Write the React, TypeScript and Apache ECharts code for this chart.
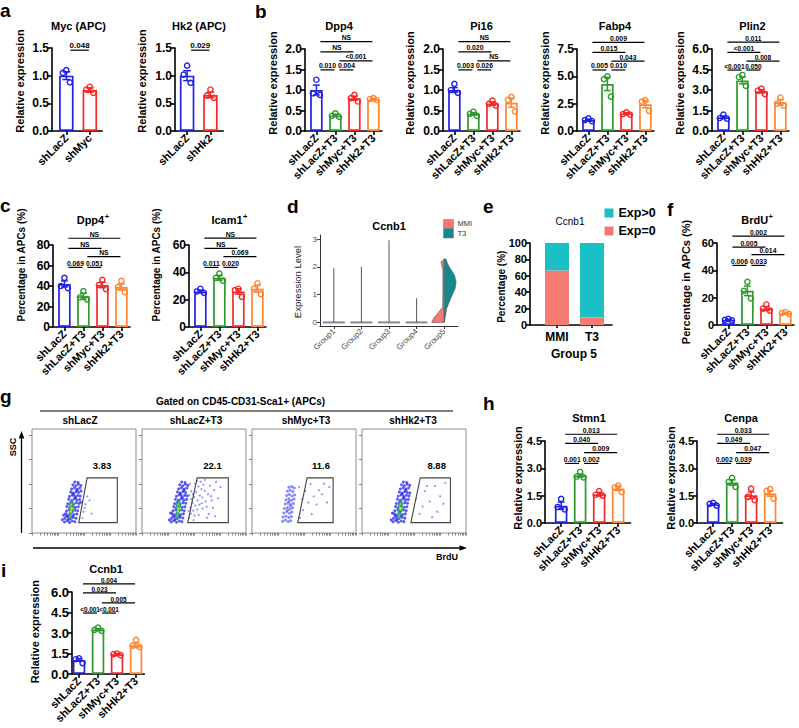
import React, { useEffect, useRef } from "react";
import * as echarts from "echarts";

const FONT = "Arial, 'Liberation Sans', Helvetica, sans-serif";
const BLUE = "#2121E3";
const GREEN = "#2E9A2E";
const RED = "#F42828";
const ORANGE = "#FF8533";
const C4 = [BLUE, GREEN, RED, ORANGE];
const C2 = [BLUE, RED];
const SALMON = "#F8766D";
const TEAL_D = "#12898C";
const TEAL_E = "#1BC0C4";
const SALMON_E = "#F57A70";

// ---------------- data ----------------
const groups4 = ["shLacZ", "shLacZ+T3", "shMyc+T3", "shHk2+T3"];
const groupsF = ["shLacZ", "shLacZ+T3", "shMyc+T3", "shHK2+T3"];

// a
const mycCats = ["shLacZ", "shMyc"];
const mycMean = [1.0, 0.74];
const mycSem = [0.07, 0.04];
const mycDots = [[1.1, 1.05, 0.88], [0.8, 0.75, 0.69]];
const mycSig = [[0, 1, 1.46]];
const mycSigText = ["0.048"];

const hk2Cats = ["shLacZ", "shHk2"];
const hk2Mean = [1.0, 0.65];
const hk2Sem = [0.09, 0.05];
const hk2Dots = [[1.18, 1.02, 0.87], [0.75, 0.64, 0.6]];
const hk2Sig = [[0, 1, 1.46]];
const hk2SigText = ["0.029"];

// b
const dpp4Mean = [1.0, 0.38, 0.8, 0.77];
const dpp4Sem = [0.12, 0.03, 0.05, 0.02];
const dpp4Dots = [[1.25, 0.92, 0.88], [0.43, 0.37, 0.35], [0.88, 0.8, 0.72], [0.8, 0.78, 0.75]];
const dpp4Sig = [[0, 3, 2.18], [0, 2, 1.93], [1, 3, 1.71], [0, 1, 1.49], [1, 2, 1.49]];
const dpp4SigText = ["NS", "NS", "<0.001", "0.010", "0.004"];

const pi16Mean = [1.0, 0.42, 0.67, 0.69];
const pi16Sem = [0.06, 0.03, 0.04, 0.11];
const pi16Dots = [[1.15, 1.0, 0.93], [0.47, 0.42, 0.37], [0.74, 0.66, 0.62], [0.83, 0.76, 0.48]];
const pi16Sig = [[0, 3, 2.18], [0, 2, 1.93], [1, 3, 1.71], [0, 1, 1.49], [1, 2, 1.49]];
const pi16SigText = ["NS", "0.020", "NS", "0.003", "0.026"];

const fabp4Mean = [1.0, 4.3, 1.6, 2.45];
const fabp4Sem = [0.08, 0.6, 0.07, 0.32];
const fabp4Dots = [[1.15, 1.0, 0.9], [5.0, 4.75, 3.15], [1.7, 1.55, 1.5], [2.8, 2.7, 1.85]];
const fabp4Sig = [[0, 3, 8.1], [0, 2, 7.2], [1, 3, 6.4], [0, 1, 5.58], [1, 2, 5.58]];
const fabp4SigText = ["0.009", "0.015", "0.043", "0.005", "0.010"];

const plin2Mean = [1.0, 3.7, 2.9, 2.1];
const plin2Sem = [0.1, 0.25, 0.12, 0.2];
const plin2Dots = [[1.2, 0.95, 0.9], [4.1, 3.95, 3.3], [3.1, 2.95, 2.7], [2.45, 2.0, 1.85]];
const plin2Sig = [[0, 3, 6.5], [0, 2, 5.76], [1, 3, 5.12], [0, 1, 4.46], [1, 2, 4.46]];
const plin2SigText = ["0.011", "<0.001", "0.008", "<0.001", "0.050"];

// c
const dppPosMean = [42, 30, 41, 39];
const dppPosSem = [3, 3, 2.7, 3];
const dppPosDots = [[48, 40, 38], [35, 29, 27], [46, 41, 37], [45, 39, 34]];
const dppPosSig = [[0, 3, 86.6], [0, 2, 76.8], [1, 3, 68.6], [0, 1, 58.2], [1, 2, 58.2]];
const dppPosSigText = ["NS", "NS", "NS", "0.069", "0.051"];

const icamMean = [26, 36, 26, 28];
const icamSem = [1, 1.8, 2, 2.5];
const icamDots = [[28, 26, 25], [39, 36, 34], [28, 27, 22], [32, 28, 24]];
const icamSig = [[0, 3, 65], [0, 2, 57.6], [1, 3, 51.5], [0, 1, 43.6], [1, 2, 43.6]];
const icamSigText = ["NS", "NS", "0.069", "0.011", "0.020"];

// d
const violinGroups = ["Group1", "Group2", "Group3", "Group4", "Group5"];
const violinMax = [1.95, 2.0, 2.96, 0.87];
const mmiProfile = [[0, 1.0], [0.04, 1.0], [0.19, 0.78], [0.37, 0.45], [0.55, 0.13], [1.0, 0.11], [1.88, 0.11], [2.06, 0.2], [2.18, 0.27], [2.27, 0]];
const t3Profile = [[0, 0], [0.04, 0.03], [0.5, 0.2], [0.91, 0.57], [1.22, 0.89], [1.46, 0.97], [1.7, 0.84], [1.94, 0.49], [2.12, 0.27], [2.27, 0.16], [2.3, 0]];

// e
const eCats = ["MMI", "T3"];
const eExp0 = [66.5, 9];
const eExpPos = [33.5, 91];

// f
const brduMean = [3.8, 25, 12, 8.8];
const brduSem = [0.4, 3.5, 1.5, 0.4];
const brduDots = [[4.5, 3.8, 3.4], [31.5, 25, 19.5], [15, 12, 10.5], [9.5, 8.8, 8.2]];
const brduSig = [[0, 3, 65], [0, 2, 57], [1, 3, 51.5], [0, 1, 43.6], [1, 2, 43.6]];
const brduSigText = ["0.002", "0.005", "0.014", "0.006", "0.033"];

// g (events in % of each plot's width/height)
const flowTitles = ["shLacZ", "shLacZ+T3", "shMyc+T3", "shHk2+T3"];
const flowPct = ["3.83", "22.1", "11.6", "8.88"];
const flowGates = [
  [53, 53, 82, 53, 82, 10, 45, 10],
  [53, 53, 83, 53, 83, 10, 44, 10],
  [53, 53, 78, 53, 78, 10, 44, 10],
  [56, 53, 85, 53, 85, 10, 47, 10],
];
const flow1Blue = [31.2,10.6,33.8,11.9,36.1,10.2,38.7,11.5,41.3,10.8,34.9,12.7,31.5,14.1,34.6,15.3,36.9,13.8,39.8,14.9,42.4,14.2,33.1,16.4,32.4,18.6,35.1,17.4,37.6,18.9,40.3,17.7,43.1,18.3,38.9,16.1,33.2,21.1,35.9,22.4,38.8,20.8,41.4,21.9,43.9,21.3,36.8,19.9,33.6,25.4,36.4,24.3,39.3,25.8,41.8,24.6,44.6,25.2,37.9,23.2,34.5,28.1,37.2,29.3,40.1,27.9,42.7,29.1,45.3,28.4,38.6,30.4,35.3,32.4,38.1,31.3,40.6,32.9,43.2,31.6,45.8,32.2,41.9,33.8,36.1,35.2,38.9,36.4,41.5,35.0,44.1,36.1,46.4,35.6,40.2,37.3,37.2,39.3,39.6,38.4,42.3,39.7,44.8,38.9,43.4,41.1,38.1,42.2,40.8,43.4,43.4,42.1,45.9,43.2,39.3,46.3,42.1,45.4,44.6,46.8,47.1,45.7,41.2,49.1,44.3,48.6,29.2,12.8,30.4,17.2,47.2,40.3,46.8,29.6];
const flow1Green = [36.2,16.8,37.4,19.3,38.1,21.6,37.0,23.8,38.9,25.2,39.4,27.7,36.6,26.9,38.2,30.1,39.8,22.4,37.6,14.9];
const flow1Yellow = [38.0,23.3,37.3,20.6];
const flow1Gate = [48.4,14.3,49.5,20.4,51.4,27.6,53.1,35.2,55.2,31.4,50.6,24.1,57.2,18.6];
const flow2Blue = [28.1,10.7,30.6,11.8,33.2,10.3,35.9,11.6,38.4,10.9,31.8,12.9,28.5,14.3,31.3,15.4,33.9,13.9,36.6,15.1,39.2,14.4,30.1,16.6,29.1,18.5,31.8,17.6,34.4,19.1,37.1,17.8,39.8,18.4,35.7,16.2,29.9,21.3,32.6,22.5,35.3,20.9,38.1,22.1,40.6,21.4,33.7,20.1,30.6,25.3,33.3,24.4,36.1,25.9,38.7,24.7,41.3,25.3,34.8,23.3,31.4,28.2,34.1,29.4,36.9,28.1,39.6,29.2,42.1,28.6,35.5,30.5,32.2,32.5,35.0,31.4,37.6,32.8,40.2,31.7,42.8,32.3,38.9,33.9,33.1,35.3,35.8,36.5,38.4,35.1,41.1,36.2,43.5,35.7,37.2,37.4,34.1,39.4,36.6,38.5,39.3,39.8,41.9,39.0,40.4,41.2,35.2,42.3,37.8,43.5,40.5,42.2,43.1,43.3,36.3,46.4,39.1,45.5,41.7,46.9,44.2,45.8,38.2,49.0,41.4,48.5,26.3,12.6,27.4,19.2];
const flow2Green = [33.1,16.7,34.3,19.2,35.1,21.7,34.0,23.9,35.9,25.3,36.4,27.8,33.6,27.0,35.2,30.2,36.8,22.5,34.6,14.8];
const flow2Yellow = [35.0,23.4,34.4,20.7];
const flow2Gate = [45.3,14.2,47.1,18.6,46.4,24.3,49.2,21.5,48.6,29.1,51.3,26.4,50.2,34.6,53.4,31.2,52.1,39.3,55.6,36.1,54.3,44.7,57.2,42.1,56.4,49.3,59.1,46.5,58.3,23.6,61.2,30.4,63.5,37.2,60.4,51.1,65.3,45.6,67.2,31.4,62.1,25.3,47.4,40.2,49.6,12.4,64.2,18.3,69.5,41.2,71.2,49.1,54.6,17.4,57.3,28.6,66.4,35.3,73.1,33.4,45.6,36.2,51.2,47.4,60.3,40.5,62.4,14.6,68.2,24.3,75.4,44.2,53.2,22.5,58.1,34.3,47.2,32.6,70.3,16.1,46.1,47.3,50.5,16.8,55.1,27.2,52.9,50.2,44.8,21.3,48.8,37.4];
const flow3Blue = [29.4,11.2,32.1,12.4,34.8,10.9,37.3,11.8,29.9,15.3,32.7,16.1,35.4,14.8,37.9,15.9,30.6,19.2,33.4,20.4,36.1,19.0,38.4,20.1,31.2,23.6,34.0,24.5,36.6,23.1,39.1,24.2,31.9,27.9,34.6,28.7,37.3,27.4,39.8,28.3,32.6,31.8,35.3,32.9,38.0,31.5,40.4,32.6,33.3,36.1,36.0,36.9,38.6,35.6,41.0,36.5,34.1,40.2,36.7,41.1,39.3,39.8,35.4,43.9,38.2,44.6,40.6,43.2,36.8,26.0,34.2,21.9,35.7,30.3];
const flow3Green: number[] = [];
const flow3Yellow: number[] = [];
const flow3Gate = [46.2,14.4,49.3,22.1,54.1,29.3,59.4,35.2,51.2,40.4,64.3,41.1,69.2,47.3,57.4,18.2,62.1,27.4,74.3,44.2,48.2,32.3,67.4,37.2,72.1,29.4,56.3,47.1,45.4,44.2];
const flow4Blue = [29.8,10.8,32.4,11.9,35.0,10.4,37.7,11.6,40.3,10.9,33.7,13.1,30.3,14.2,33.1,15.4,35.8,13.9,38.5,15.1,41.1,14.3,31.9,16.7,30.9,18.6,33.6,17.5,36.3,19.1,39.0,17.8,41.7,18.4,37.5,16.3,31.6,21.3,34.4,22.6,37.1,21.0,39.8,22.2,42.4,21.5,35.6,20.1,32.3,25.4,35.1,24.5,37.8,25.9,40.5,24.7,43.1,25.3,36.7,23.3,33.1,28.3,35.9,29.4,38.6,28.1,41.2,29.2,43.8,28.6,37.4,30.5,33.9,32.5,36.7,31.4,39.3,32.9,41.9,31.7,44.5,32.3,40.6,33.9,34.8,35.3,37.5,36.5,40.1,35.1,42.7,36.2,45.2,35.7,38.9,37.4,35.8,39.4,38.3,38.5,41.0,39.8,43.6,39.0,42.2,41.2,36.9,42.3,39.6,43.5,42.2,42.2,44.8,43.3,38.0,46.4,40.8,45.5,43.4,46.9,45.9,45.8,39.9,49.0,43.1,48.5,28.1,12.6,29.2,19.3,46.1,38.4];
const flow4Green = [34.9,16.8,36.1,19.3,36.9,21.7,35.8,23.9,37.7,25.3,38.2,27.8,35.4,27.0,37.0,30.2,38.6,22.5,36.4,14.9];
const flow4Yellow = [36.8,23.4];
const flow4Gate = [58.2,25.4,60.3,40.2,65.1,30.3,67.4,15.2,70.2,45.1,72.3,20.4,75.1,35.3,78.2,28.1,80.1,48.2,62.4,45.3,52.2,33.1,55.3,18.4];

// h
const stmnMean = [0.95, 2.6, 1.58, 1.9];
const stmnSem = [0.2, 0.08, 0.1, 0.12];
const stmnDots = [[1.32, 0.88, 0.75], [2.8, 2.55, 2.5], [1.75, 1.55, 1.5], [2.05, 1.95, 1.7]];
const stmnSig = [[0, 3, 4.87], [0, 2, 4.37], [1, 3, 3.86], [0, 1, 3.27], [1, 2, 3.27]];
const stmnSigText = ["0.013", "0.040", "0.009", "0.001", "0.002"];

const cenpaMean = [1.02, 2.22, 1.52, 1.62];
const cenpaSem = [0.05, 0.15, 0.18, 0.15];
const cenpaDots = [[1.1, 1.05, 0.95], [2.48, 2.26, 1.98], [1.89, 1.43, 1.25], [1.86, 1.76, 1.34]];
const cenpaSig = [[0, 3, 4.87], [0, 2, 4.37], [1, 3, 3.86], [0, 1, 3.27], [1, 2, 3.27]];
const cenpaSigText = ["0.033", "0.049", "0.047", "0.002", "0.039"];

// i
const ccnbMean = [1.03, 3.25, 1.45, 2.1];
const ccnbSem = [0.1, 0.07, 0.04, 0.17];
const ccnbDots = [[1.15, 1.08, 0.8], [3.4, 3.23, 3.16], [1.5, 1.45, 1.38], [2.5, 2.08, 1.96]];
const ccnbSig = [[0, 3, 6.6], [0, 2, 5.93], [1, 3, 5.2], [0, 1, 4.46], [1, 2, 4.46]];
const ccnbSigText = ["0.004", "0.023", "0.005", "<0.001", "<0.001"];

// ---------------- builder ----------------
const JIT = [0, -3.5, 3.5];
const pairs = (a: number[]) => {
  const r: number[][] = [];
  for (let i = 0; i < a.length; i += 2) r.push([a[i], a[i + 1]]);
  return r;
};

function buildOption() {
  const grid: any[] = [];
  const xAxis: any[] = [];
  const yAxis: any[] = [];
  const series: any[] = [];
  const graphic: any[] = [];
  const AX = { color: "#000", width: 1.6 };

  const T = (x: number, y: number, text: string, size: number, weight: any = "bold", extra: any = {}, rot = 0) => {
    graphic.push({
      type: "text", x, y, rotation: rot, silent: true,
      style: { text, fontSize: size, fontWeight: weight, fontFamily: FONT, fill: "#000", align: "center", verticalAlign: "middle", ...extra },
    });
  };

  function barPanel(p: any, L: any) {
    const gi = grid.length;
    const idx = p.cats.map((_: any, i: number) => i);
    grid.push({ left: L.left, top: L.top, width: (L.xMax - L.xMin) * L.spacing, height: L.height });
    xAxis.push({
      gridIndex: gi, type: "value", min: L.xMin, max: L.xMax,
      axisLine: { show: true, onZero: false, lineStyle: AX },
      axisTick: { show: true, customValues: idx, length: 4, lineStyle: AX },
      axisLabel: {
        show: true, customValues: idx, formatter: (v: number) => p.cats[Math.round(v)] ?? "",
        rotate: 45, fontSize: 11, fontWeight: "bold", color: "#000", fontFamily: FONT, margin: 5,
      },
      splitLine: { show: false },
    });
    yAxis.push({
      gridIndex: gi, type: "value", min: 0, max: p.yMax, interval: p.yStep,
      axisLine: { show: true, onZero: false, lineStyle: AX },
      axisTick: { show: true, length: 4, lineStyle: AX },
      axisLabel: {
        formatter: (v: number) => v.toFixed(p.dec), fontSize: L.tickSize, fontWeight: "bold",
        color: "#000", fontFamily: FONT, margin: 3,
      },
      splitLine: { show: false },
    });
    series.push({
      type: "bar", xAxisIndex: gi, yAxisIndex: gi, barWidth: L.barW, silent: true,
      data: p.mean.map((m: number, i: number) => ({
        value: [i, m],
        itemStyle: { color: "rgba(255,255,255,0)", borderColor: p.colors[i], borderWidth: 1.7 },
      })),
    });
    series.push({
      type: "custom", xAxisIndex: gi, yAxisIndex: gi, silent: true, clip: false,
      data: p.mean.map((m: number, i: number) => [i, m, p.sem[i]]),
      renderItem: (params: any, api: any) => {
        const i = api.value(0), m = api.value(1), e = api.value(2);
        const c = p.colors[i];
        const [cx, yT] = api.coord([i, m + e]);
        const yB = api.coord([i, m - e])[1];
        const cap = L.barW * 0.27;
        const ch: any[] = [
          { type: "line", shape: { x1: cx, y1: yT, x2: cx, y2: yB }, style: { stroke: c, lineWidth: 1.5 } },
          { type: "line", shape: { x1: cx - cap, y1: yT, x2: cx + cap, y2: yT }, style: { stroke: c, lineWidth: 1.5 } },
          { type: "line", shape: { x1: cx - cap, y1: yB, x2: cx + cap, y2: yB }, style: { stroke: c, lineWidth: 1.5 } },
        ];
        p.dots[i].forEach((d: number, k: number) => {
          const yy = api.coord([i, d])[1];
          ch.push({ type: "circle", shape: { cx: cx + JIT[k], cy: yy, r: 2.6 }, style: { fill: "none", stroke: c, lineWidth: 1.4 } });
        });
        return { type: "group", children: ch };
      },
    });
    series.push({
      type: "custom", xAxisIndex: gi, yAxisIndex: gi, silent: true, clip: false,
      data: p.sig,
      renderItem: (params: any, api: any) => {
        const a = api.value(0), b = api.value(1), y = api.value(2);
        const [x1, yy] = api.coord([a, y]);
        const x2 = api.coord([b, y])[0];
        const xa = x1 + 4, xb = x2 - 1;
        return {
          type: "group",
          children: [
            { type: "line", shape: { x1: xa, y1: yy, x2: xb, y2: yy }, style: { stroke: "#000", lineWidth: 1.2 } },
            {
              type: "text", x: (xa + xb) / 2, y: yy - 0.5,
              style: { text: p.sigText[params.dataIndex], fontSize: L.sigSize, fontWeight: "bold", fontFamily: FONT, fill: "#000", align: "center", verticalAlign: "bottom" },
            },
          ],
        };
      },
    });
  }

  const L2 = (left: number, top: number) => ({ left, top, height: 83, xMin: -0.61, xMax: 1.53, spacing: 23.5, barW: 14.5, tickSize: 12, sigSize: 8 });
  const L4 = (left: number, top: number, tickSize = 12, xMin = -0.6, xMax = 3.45, sigSize = 6.8) =>
    ({ left, top, height: 82, xMin, xMax, spacing: 19, barW: 12.5, tickSize, sigSize });

  // a
  barPanel({ cats: mycCats, colors: C2, mean: mycMean, sem: mycSem, dots: mycDots, sig: mycSig, sigText: mycSigText, yMax: 1.5, yStep: 0.5, dec: 1 }, L2(52, 48));
  barPanel({ cats: hk2Cats, colors: C2, mean: hk2Mean, sem: hk2Sem, dots: hk2Dots, sig: hk2Sig, sigText: hk2SigText, yMax: 1.5, yStep: 0.5, dec: 1 }, { ...L2(175, 48), xMin: -0.52, xMax: 1.55, spacing: 23.3 });
  // b
  barPanel({ cats: groups4, colors: C4, mean: dpp4Mean, sem: dpp4Sem, dots: dpp4Dots, sig: dpp4Sig, sigText: dpp4SigText, yMax: 2, yStep: 0.5, dec: 1 }, L4(305, 49));
  barPanel({ cats: groups4, colors: C4, mean: pi16Mean, sem: pi16Sem, dots: pi16Dots, sig: pi16Sig, sigText: pi16SigText, yMax: 2, yStep: 0.5, dec: 1 }, L4(443, 49));
  barPanel({ cats: groups4, colors: C4, mean: fabp4Mean, sem: fabp4Sem, dots: fabp4Dots, sig: fabp4Sig, sigText: fabp4SigText, yMax: 7.5, yStep: 2.5, dec: 1 }, L4(577, 49));
  barPanel({ cats: groups4, colors: C4, mean: plin2Mean, sem: plin2Sem, dots: plin2Dots, sig: plin2Sig, sigText: plin2SigText, yMax: 6, yStep: 1.5, dec: 1 }, L4(712, 49, 12, -0.6, 3.45, 6.6));
  // c
  barPanel({ cats: groups4, colors: C4, mean: dppPosMean, sem: dppPosSem, dots: dppPosDots, sig: dppPosSig, sigText: dppPosSigText, yMax: 80, yStep: 20, dec: 0 }, L4(53, 245));
  barPanel({ cats: groups4, colors: C4, mean: icamMean, sem: icamSem, dots: icamDots, sig: icamSig, sigText: icamSigText, yMax: 60, yStep: 20, dec: 0 }, L4(189, 245));
  // f
  barPanel({ cats: groupsF, colors: C4, mean: brduMean, sem: brduSem, dots: brduDots, sig: brduSig, sigText: brduSigText, yMax: 60, yStep: 20, dec: 0 }, L4(717, 243, 11));
  // h
  barPanel({ cats: groups4, colors: C4, mean: stmnMean, sem: stmnSem, dots: stmnDots, sig: stmnSig, sigText: stmnSigText, yMax: 4.5, yStep: 1.5, dec: 1 }, L4(545, 441, 11, -0.85, 3.65));
  barPanel({ cats: groups4, colors: C4, mean: cenpaMean, sem: cenpaSem, dots: cenpaDots, sig: cenpaSig, sigText: cenpaSigText, yMax: 4.5, yStep: 1.5, dec: 1 }, L4(697, 441, 11, -0.85, 3.65));
  // i
  barPanel({ cats: groups4, colors: C4, mean: ccnbMean, sem: ccnbSem, dots: ccnbDots, sig: ccnbSig, sigText: ccnbSigText, yMax: 6, yStep: 1.5, dec: 1 }, L4(72, 592, 13, -0.37, 3.44, 6.4));

  // ---- d violin ----
  {
    const gi = grid.length;
    const GL = { color: "#333", width: 1 };
    grid.push({ left: 320, top: 235, width: 138, height: 91 });
    xAxis.push({
      gridIndex: gi, type: "category", data: violinGroups, boundaryGap: true,
      axisLine: { show: true, onZero: false, lineStyle: GL }, axisTick: { show: true, alignWithLabel: true, length: 3, lineStyle: GL },
      axisLabel: { rotate: 45, fontSize: 8, color: "#4d4d4d", fontFamily: FONT, margin: 4, interval: 0 },
      splitLine: { show: false },
    });
    yAxis.push({
      gridIndex: gi, type: "value", min: -0.13, max: 3.15,
      axisLine: { show: true, onZero: false, lineStyle: GL },
      axisTick: { show: true, customValues: [0, 1, 2, 3], length: 3, lineStyle: GL },
      axisLabel: { customValues: [0, 1, 2, 3], fontSize: 8, color: "#4d4d4d", fontFamily: FONT, margin: 3 },
      splitLine: { show: false },
    });
    series.push({
      type: "custom", xAxisIndex: gi, yAxisIndex: gi, silent: true, clip: false,
      data: violinGroups.map((_, i) => [i, 0]),
      renderItem: (params: any, api: any) => {
        const g = params.dataIndex;
        const [cx, y0] = api.coord([g, 0]);
        if (g < 4) {
          const yt = api.coord([g, violinMax[g]])[1];
          return {
            type: "group",
            children: [
              { type: "line", shape: { x1: cx - 11, y1: y0, x2: cx + 11, y2: y0 }, style: { stroke: "#8a8a8a", lineWidth: 2 } },
              { type: "line", shape: { x1: cx, y1: y0, x2: cx, y2: yt }, style: { stroke: "#555", lineWidth: 1 } },
            ],
          };
        }
        const HW = 12.3;
        const mmi: number[][] = [[cx, y0]];
        mmiProfile.forEach(([v, w]) => mmi.push([cx - w * HW, api.coord([g, v])[1]]));
        const t3: number[][] = [[cx, y0]];
        t3Profile.forEach(([v, w]) => t3.push([cx + w * HW, api.coord([g, v])[1]]));
        return {
          type: "group",
          children: [
            { type: "polygon", shape: { points: mmi }, style: { fill: SALMON, stroke: "#555", lineWidth: 0.6 } },
            { type: "polygon", shape: { points: t3 }, style: { fill: TEAL_D, stroke: "#555", lineWidth: 0.6 } },
          ],
        };
      },
    });
  }

  // ---- e stacked ----
  {
    const gi = grid.length;
    grid.push({ left: 530, top: 243, width: 82, height: 82 });
    xAxis.push({
      gridIndex: gi, type: "value", min: 0.23, max: 2.57,
      axisLine: { show: true, onZero: false, lineStyle: AX },
      axisTick: { show: true, customValues: [1, 2], length: 3, lineStyle: AX },
      axisLabel: { customValues: [1, 2], formatter: (v: number) => eCats[Math.round(v) - 1] ?? "", fontSize: 12, fontWeight: "bold", color: "#000", fontFamily: FONT, margin: 6 },
      splitLine: { show: false },
    });
    yAxis.push({
      gridIndex: gi, type: "value", min: 0, max: 100, interval: 20,
      axisLine: { show: true, onZero: false, lineStyle: AX },
      axisTick: { show: true, length: 4, lineStyle: AX },
      axisLabel: { fontSize: 11, fontWeight: "bold", color: "#000", fontFamily: FONT, margin: 3 },
      splitLine: { show: false },
    });
    series.push({
      type: "custom", xAxisIndex: gi, yAxisIndex: gi, silent: true, clip: false, z: 1,
      data: eCats.map((_, i) => [i + 1, eExp0[i], eExpPos[i]]),
      renderItem: (params: any, api: any) => {
        const x = api.value(0), a = api.value(1), b = api.value(2);
        const [cx, y0] = api.coord([x, 0]);
        const y1 = api.coord([x, a])[1];
        const y2 = api.coord([x, a + b])[1];
        const w = 24;
        return {
          type: "group",
          children: [
            { type: "rect", shape: { x: cx - w / 2, y: y1, width: w, height: y0 - y1 }, style: { fill: SALMON_E } },
            { type: "rect", shape: { x: cx - w / 2, y: y2, width: w, height: y1 - y2 }, style: { fill: TEAL_E } },
          ],
        };
      },
    });
  }

  // ---- g flow ----
  const flowSets = [
    { blue: flow1Blue, green: flow1Green, yellow: flow1Yellow, gate: flow1Gate },
    { blue: flow2Blue, green: flow2Green, yellow: flow2Yellow, gate: flow2Gate },
    { blue: flow3Blue, green: flow3Green, yellow: flow3Yellow, gate: flow3Gate },
    { blue: flow4Blue, green: flow4Green, yellow: flow4Yellow, gate: flow4Gate },
  ];
  const flowLeft = [32, 142, 252, 362];
  const logTicks: number[] = [];
  for (const d of [0, 25, 50, 75]) for (let k = 1; k < 10; k++) logTicks.push(d + 25 * Math.log10(k));
  logTicks.push(100);
  const FT = { color: "#666", width: 0.8 };
  const DOT_COL = ["#6464ff", "#2a2aee", "#22c046", "#e3e31c"];
  const DOT_R = [1.1, 1.5, 1.35, 1.25];
  const DOT_OP = [0.7, 0.78, 0.92, 1];
  flowSets.forEach((fs, k) => {
    const gi = grid.length;
    grid.push({ left: flowLeft[k], top: 429, width: 104, height: 104, show: true, borderColor: "#8c8c8c", borderWidth: 1, backgroundColor: "transparent" });
    xAxis.push({
      gridIndex: gi, type: "value", min: 0, max: 100,
      axisLine: { show: false }, axisTick: { show: true, customValues: logTicks, length: 2.5, lineStyle: FT },
      axisLabel: { show: false }, splitLine: { show: false },
    });
    yAxis.push({
      gridIndex: gi, type: "value", min: 0, max: 100,
      axisLine: { show: false }, axisTick: { show: true, customValues: [0, 23.5, 47, 70.5, 94], length: 3, lineStyle: FT },
      axisLabel: { show: false }, splitLine: { show: false },
    });
    const events: number[][] = [];
    [fs.gate, fs.blue, fs.green, fs.yellow].forEach((arr, c) => pairs(arr).forEach(([x, y]) => events.push([x, y, c])));
    series.push({
      type: "custom", xAxisIndex: gi, yAxisIndex: gi, silent: true, clip: false,
      data: events,
      renderItem: (params: any, api: any) => {
        const [px, py] = api.coord([api.value(0), api.value(1)]);
        const c = api.value(2);
        const col = k === 2 && c === 1 ? "#4a4af0" : DOT_COL[c];
        return { type: "circle", shape: { cx: px, cy: py, r: DOT_R[c] }, style: { fill: col, opacity: k === 2 && c === 1 ? 0.65 : DOT_OP[c] } };
      },
    });
    series.push({
      type: "custom", xAxisIndex: gi, yAxisIndex: gi, silent: true, clip: false,
      data: [[0, 0]],
      renderItem: (params: any, api: any) => {
        const pts = pairs(flowGates[k]).map((pt) => api.coord(pt));
        return { type: "polygon", shape: { points: pts }, style: { fill: "none", stroke: "#444", lineWidth: 1.1 } };
      },
    });
  });

  // ---------------- texts ----------------
  const letters: [string, number, number][] = [
    ["a", 0, 10], ["b", 255, 11.5], ["c", 0, 205.5], ["d", 287, 206.5], ["e", 483, 206.5],
    ["f", 667, 209.5], ["g", 0, 396.5], ["h", 483, 403], ["i", 1, 570],
  ];
  letters.forEach(([t, x, y]) => T(x, y, t, 19, "bold", { align: "left" }));

  // titles
  T(78.5, 25.6, "Myc (APC)", 11);
  T(199, 25.6, "Hk2 (APC)", 11);
  T(339, 25.6, "Dpp4", 11);
  T(481.5, 25.6, "Pi16", 11);
  T(615, 25.6, "Fabp4", 11);
  T(752.5, 25.6, "Plin2", 11);
  const sup = (anchor: number, y: number, main: string) => {
    T(anchor, y, main, 11, "bold", { align: "right" });
    T(anchor + 0.5, y - 4, "+", 7.5, "bold", { align: "left" });
  };
  sup(104.2, 220, "Dpp4");
  sup(242.6, 220, "Icam1");
  sup(768.1, 220, "BrdU");
  T(389, 226, "Ccnb1", 11);
  T(570, 221, "Ccnb1", 10, "normal");
  T(589, 417.8, "Stmn1", 11);
  T(741, 417.8, "Cenpa", 11);
  T(106, 568.8, "Ccnb1", 11);

  // y titles
  const R = Math.PI / 2;
  T(20, 81, "Relative expression", 11, "bold", {}, R);
  T(141.7, 81, "Relative expression", 11, "bold", {}, R);
  T(273.3, 83, "Relative expression", 11, "bold", {}, R);
  T(410, 83, "Relative expression", 11, "bold", {}, R);
  T(545, 83, "Relative expression", 11, "bold", {}, R);
  T(680, 83, "Relative expression", 11, "bold", {}, R);
  T(21, 265, "Percentage in APCs (%)", 10, "bold", {}, R);
  T(156, 265, "Percentage in APCs (%)", 10, "bold", {}, R);
  T(297.7, 282, "Expression Level", 9.5, "normal", { fill: "#222" }, R);
  T(501.7, 286.7, "Percentage (%)", 10, "bold", {}, R);
  T(686, 282, "Percentage in APCs (%)", 11, "bold", {}, R);
  T(518, 478, "Relative expression", 11, "bold", {}, R);
  T(671, 478, "Relative expression", 11, "bold", {}, R);
  T(35, 631.7, "Relative expression", 11, "bold", {}, R);

  // e labels & legend
  T(574, 354, "Group 5", 12);
  graphic.push({ type: "rect", silent: true, shape: { x: 604.5, y: 208.5, width: 9, height: 9 }, style: { fill: TEAL_E } });
  graphic.push({ type: "rect", silent: true, shape: { x: 604.5, y: 226.5, width: 9, height: 9 }, style: { fill: SALMON_E } });
  T(618.5, 213, "Exp>0", 12.5, "bold", { align: "left" });
  T(618.5, 231, "Exp=0", 12.5, "bold", { align: "left" });

  // d legend
  graphic.push({ type: "rect", silent: true, shape: { x: 443.5, y: 219.5, width: 10, height: 8.5 }, style: { fill: SALMON, stroke: "#777", lineWidth: 0.5 } });
  graphic.push({ type: "rect", silent: true, shape: { x: 443.5, y: 228.5, width: 10, height: 9.5 }, style: { fill: TEAL_D, stroke: "#777", lineWidth: 0.5 } });
  T(457.5, 223.5, "MMI", 7.5, "normal", { align: "left", fill: "#333" });
  T(457.5, 233, "T3", 7.5, "normal", { align: "left", fill: "#333" });

  // g texts
  T(240.5, 401.5, "Gated on CD45-CD31-Sca1+ (APCs)", 10);
  graphic.push({ type: "line", silent: true, shape: { x1: 40, y1: 411, x2: 453, y2: 411 }, style: { stroke: "#000", lineWidth: 1.2 } });
  const flowTitleX = [80, 196, 306, 413];
  flowTitles.forEach((t, k) => T(flowTitleX[k], 420, t, 10));
  const flowPctX = [102, 212.5, 321, 436.7];
  flowPct.forEach((t, k) => T(flowPctX[k], 465.5, t, 9.5));
  graphic.push({ type: "line", silent: true, shape: { x1: 21.5, y1: 533, x2: 21.5, y2: 437 }, style: { stroke: "#000", lineWidth: 1.3 } });
  graphic.push({ type: "polygon", silent: true, shape: { points: [[21.5, 431], [18.7, 438.5], [24.3, 438.5]] }, style: { fill: "#000" } });
  T(13, 447, "SSC", 9, "bold", {}, R);
  graphic.push({ type: "line", silent: true, shape: { x1: 33, y1: 548, x2: 461, y2: 548 }, style: { stroke: "#000", lineWidth: 1.3 } });
  graphic.push({ type: "polygon", silent: true, shape: { points: [[467, 548], [459.5, 545.2], [459.5, 550.8]] }, style: { fill: "#000" } });
  T(447, 556.5, "BrdU", 9);

  return { animation: false, backgroundColor: "#fff", grid, xAxis, yAxis, series, graphic };
}

export default function App() {
  const ref = useRef<HTMLDivElement>(null);
  useEffect(() => {
    const chart = echarts.init(ref.current!, null, { renderer: "svg" });
    chart.setOption(buildOption() as any);
    return () => chart.dispose();
  }, []);
  return (
    <div
      ref={ref}
      style={{ position: "absolute", left: 0, top: 0, width: 799, height: 728, background: "#fff" }}
    />
  );
}
